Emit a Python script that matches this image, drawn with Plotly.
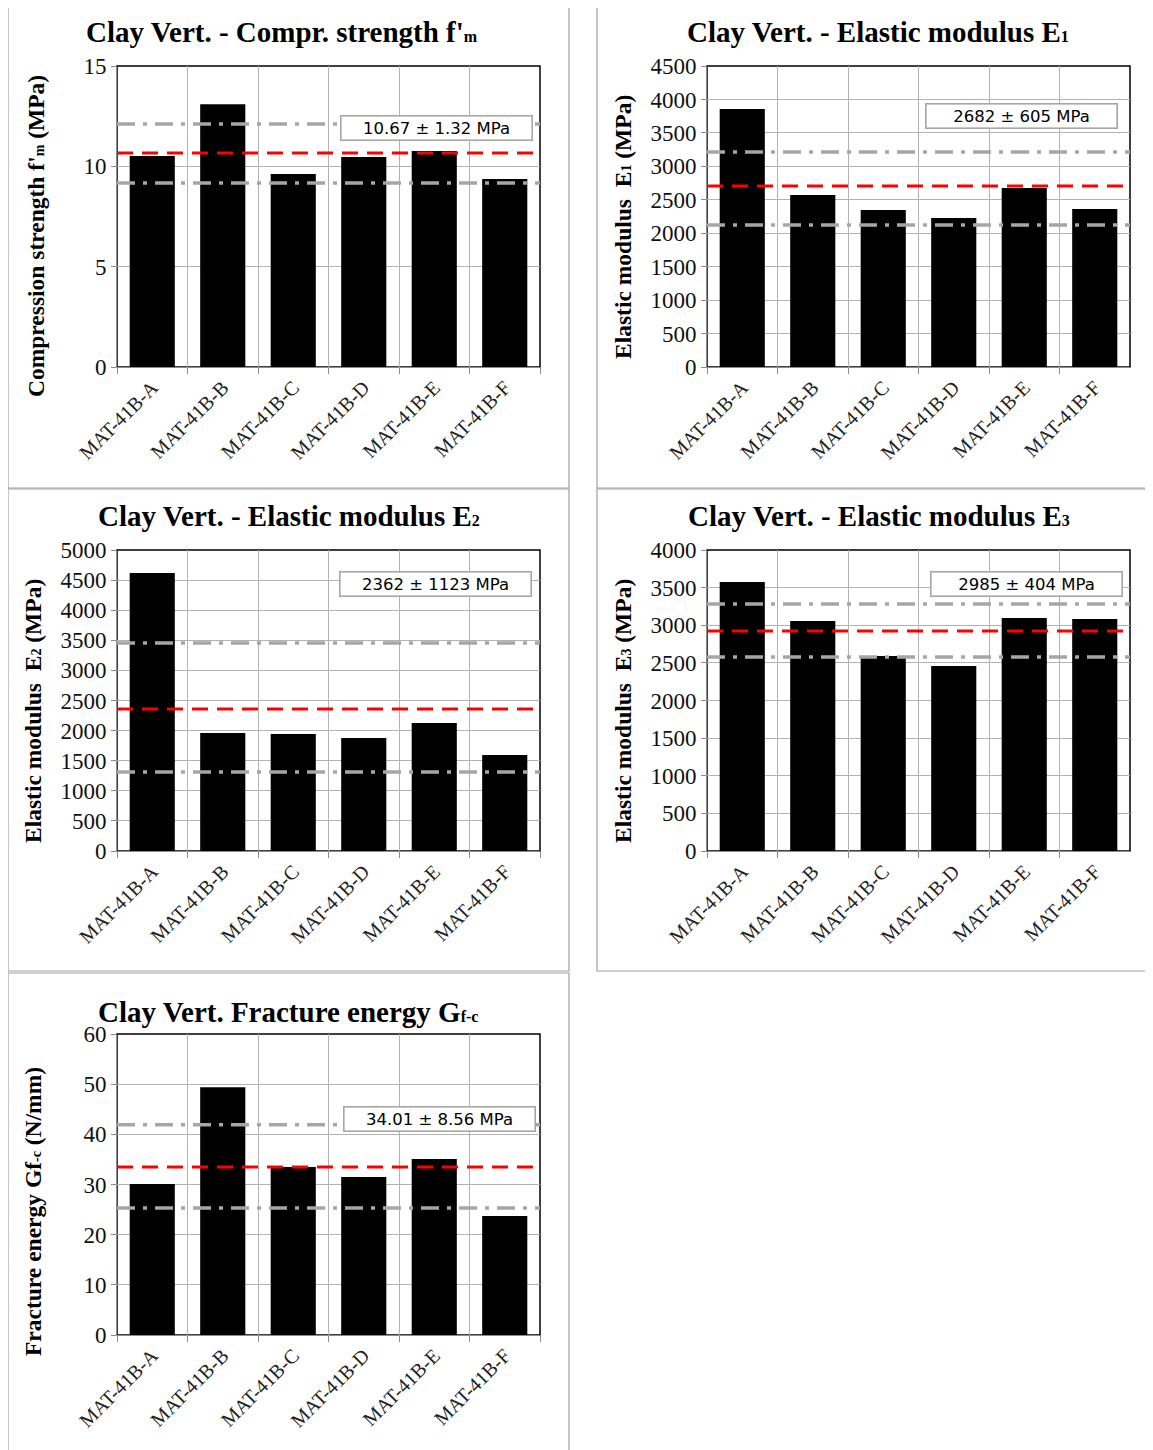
import plotly.graph_objects as go

# The page adds an 8px body margin; the figure is sized to fill the window.
W, H = 1145, 1442
OFF = 8

categories = ["MAT-41B-A", "MAT-41B-B", "MAT-41B-C", "MAT-41B-D", "MAT-41B-E", "MAT-41B-F"]

fm_values = [10.51, 13.10, 9.62, 10.47, 10.76, 9.37]
e1_values = [3857, 2571, 2347, 2228, 2676, 2362]
e2_values = [4618, 1960, 1944, 1877, 2126, 1595]
e3_values = [3575, 3056, 2591, 2458, 3096, 3083]
gf_values = [30.1, 49.4, 33.5, 31.5, 35.1, 23.7]

# mean line, upper and lower dash-dot lines (as drawn)
fm_lines = [10.66, 12.11, 9.17]
e1_lines = [2706, 3214, 2123]
e2_lines = [2359, 3455, 1312]
e3_lines = [2924, 3282, 2578]
gf_lines = [33.5, 41.9, 25.3]

box_labels = ["10.67 ± 1.32 MPa", "2682 ± 605 MPa", "2362 ± 1123 MPa",
              "2985 ± 404 MPa", "34.01 ± 8.56 MPa"]

SM = '<span style="font-size:16px">%s</span>'
titles = [
    "Clay Vert. - Compr. strength f'" + SM % "m",
    "Clay Vert. - Elastic modulus E" + SM % "1",
    "Clay Vert. - Elastic modulus E" + SM % "2",
    "Clay Vert. - Elastic modulus E" + SM % "3",
    "Clay Vert. Fracture energy G" + SM % "f-c",
]
SMY = '<span style="font-size:14px">%s</span>'
ytitles = [
    "Compression strength f'" + SMY % "m" + " (MPa)",
    "Elastic modulus  E" + SMY % "1" + " (MPa)",
    "Elastic modulus  E" + SMY % "2" + " (MPa)",
    "Elastic modulus  E" + SMY % "3" + " (MPa)",
    "Fracture energy Gf" + SMY % "-c" + " (N/mm)",
]
y_max = [15, 4500, 5000, 4000, 60]
y_dtick = [5, 500, 500, 500, 10]

series = [fm_values, e1_values, e2_values, e3_values, gf_values]
lines = [fm_lines, e1_lines, e2_lines, e3_lines, gf_lines]

# layout geometry (window pixels)
plot_x = [(117, 540), (707, 1130), (117, 540), (707, 1130), (117, 540)]
plot_y = [(66, 367), (66, 367), (550, 851), (550, 851), (1034, 1335)]
title_pos = [(282, 32), (878, 32), (289, 516), (879, 516), (288, 1012)]
ytitle_pos = [(36, 236), (623, 227), (33, 711), (623, 711), (33, 1212)]
box_pos = [(436.5, 128.5), (1021, 116), (435.5, 584.5), (1026, 584.5), (439.5, 1118.5)]
frames = [(8, 5, 569, 488), (597, 5, 1170, 488), (8, 489, 569, 971),
          (597, 489, 1170, 971), (8, 973, 569, 1470)]

def px(x):
    return (x - OFF) / W

def py(y):
    return 1 - (y - OFF) / H

fig = go.Figure()
layout = dict(width=W, height=H,
              margin=dict(l=0, r=0, t=0, b=0, pad=0, autoexpand=False),
              paper_bgcolor="white", plot_bgcolor="white", showlegend=False,
              bargap=0.36)
shapes = []
annotations = []

GRID = "#b3b3b3"
AXL = "#8c8c8c"
SERIF = "Liberation Serif"

for i in range(5):
    n = "" if i == 0 else str(i + 1)
    xa, ya = "x" + n, "y" + n
    fig.add_trace(go.Bar(x=categories, y=series[i], xaxis=xa, yaxis=ya,
                         marker=dict(color="black", line=dict(width=0))))
    (x0, x1), (y0, y1) = plot_x[i], plot_y[i]
    layout["xaxis" + n] = dict(
        domain=[px(x0), px(x1)], anchor=ya, type="category", automargin=False,
        tickson="boundaries", ticks="outside", ticklen=6, tickcolor=AXL,
        showgrid=True, gridcolor=GRID, gridwidth=1,
        showline=True, linecolor=AXL, linewidth=1,
        tickangle=-45, tickfont=dict(family=SERIF, size=20, color="#222"),
        fixedrange=True)
    layout["yaxis" + n] = dict(
        domain=[py(y1), py(y0)], anchor=xa, range=[0, y_max[i]], automargin=False,
        dtick=y_dtick[i], tick0=0, ticks="outside", ticklen=5, tickcolor=AXL,
        showgrid=True, gridcolor=GRID, gridwidth=1, zeroline=False,
        showline=True, linecolor=AXL, linewidth=1,
        tickfont=dict(family=SERIF, size=23, color="#111"), fixedrange=True)
    # plot area border
    shapes.append(dict(type="rect", xref=xa + " domain", yref=ya + " domain",
                       x0=0, x1=1, y0=0, y1=1, line=dict(color="black", width=1.5),
                       layer="below"))
    # reference lines
    mean, up, lo = lines[i]
    for val, col, dash, wd in [(up, "#a6a6a6", "18px,8px,4px,8px", 3.5),
                               (lo, "#a6a6a6", "18px,8px,4px,8px", 3.5),
                               (mean, "#ff0000", "16px,9px", 3)]:
        shapes.append(dict(type="line", xref=xa + " domain", yref=ya,
                           x0=0, x1=1, y0=val, y1=val,
                           line=dict(color=col, width=wd, dash=dash), layer="above"))
    # outer frame
    fx0, fy0, fx1, fy1 = frames[i]
    shapes.append(dict(type="rect", xref="paper", yref="paper",
                       x0=px(fx0), x1=px(fx1), y0=py(fy1), y1=py(fy0),
                       line=dict(color="#a0a0a0", width=1.2), layer="below"))
    # title
    tx, ty = title_pos[i]
    annotations.append(dict(text="<b>" + titles[i] + "</b>", xref="paper", yref="paper",
                            x=px(tx), y=py(ty), xanchor="center", yanchor="middle",
                            showarrow=False,
                            font=dict(family=SERIF, size=29, color="black")))
    # y title
    yx, yy = ytitle_pos[i]
    annotations.append(dict(text="<b>" + ytitles[i] + "</b>", xref="paper", yref="paper",
                            x=px(yx), y=py(yy), xanchor="center", yanchor="middle",
                            textangle=-90, showarrow=False,
                            font=dict(family=SERIF, size=23.5, color="black")))
    # value box
    bx, by = box_pos[i]
    annotations.append(dict(text=box_labels[i], xref="paper", yref="paper",
                            x=px(bx), y=py(by), xanchor="center", yanchor="middle",
                            showarrow=False, width=186, height=19, borderpad=2,
                            bgcolor="white", bordercolor="#a6a6a6", borderwidth=1.6,
                            font=dict(family="DejaVu Sans", size=16.5, color="black")))

layout["shapes"] = shapes
layout["annotations"] = annotations
fig.update_layout(**layout)
fig.write_html("out.html")
